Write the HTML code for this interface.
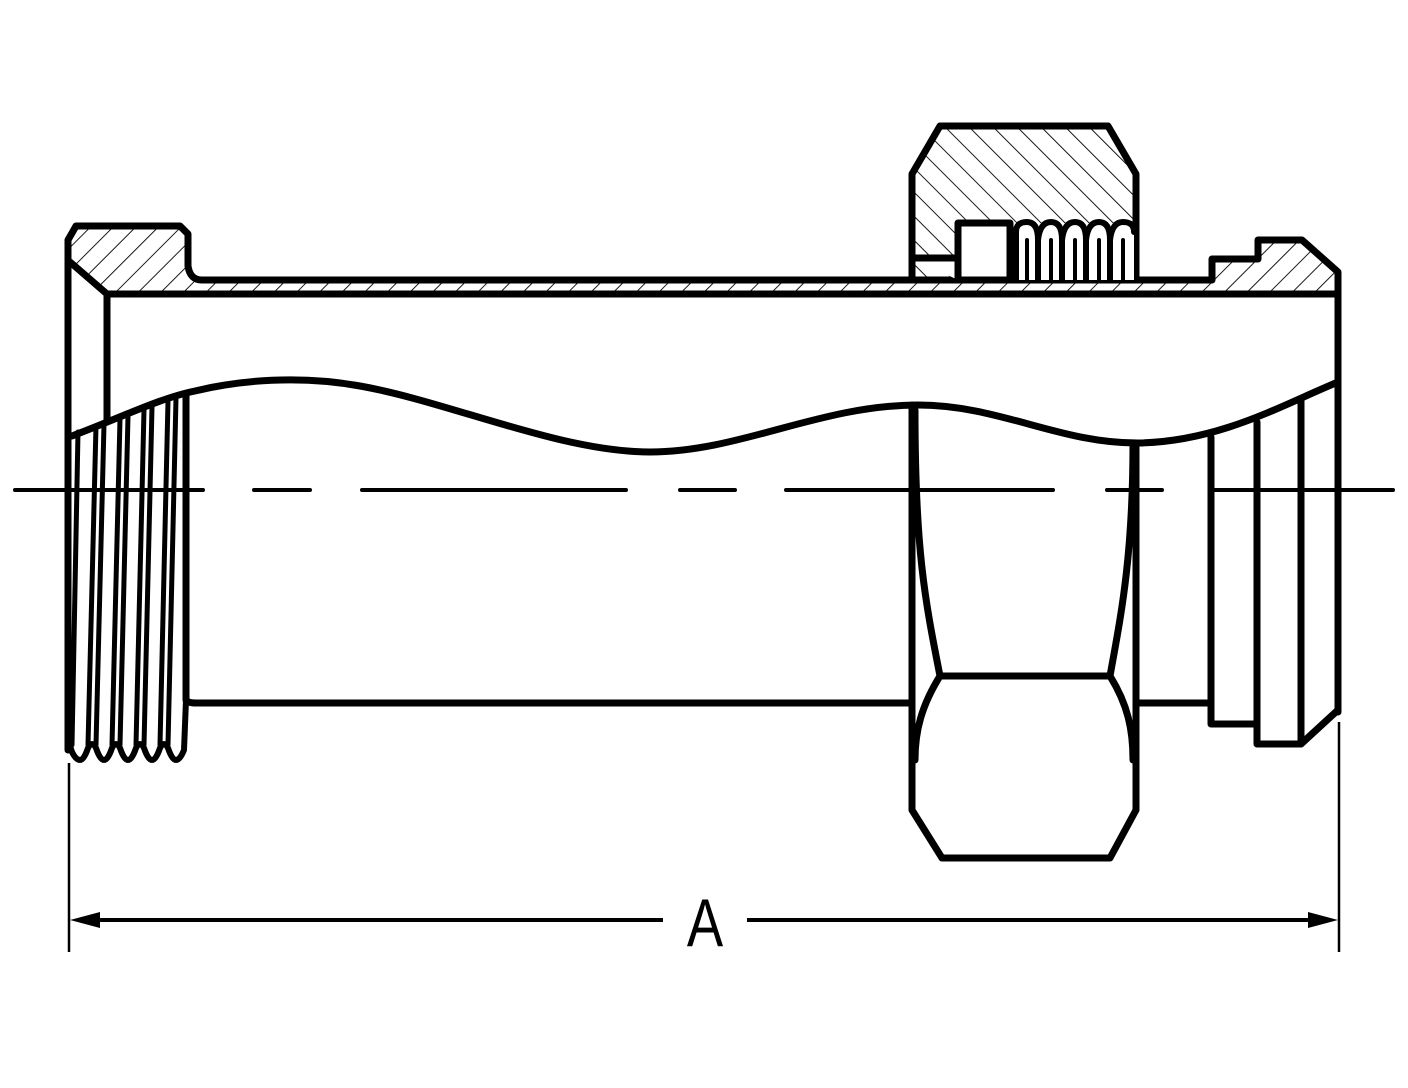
<!DOCTYPE html>
<html><head><meta charset="utf-8"><style>
html,body{margin:0;padding:0;background:#fff;}
svg{display:block}
</style></head><body>
<svg width="1408" height="1088" viewBox="0 0 1408 1088" xmlns="http://www.w3.org/2000/svg">
<defs>
<pattern id="h1" patternUnits="userSpaceOnUse" width="16" height="16" patternTransform="rotate(45)">
<line x1="0" y1="0" x2="0" y2="16" stroke="#000" stroke-width="1.8"/>
</pattern>
<pattern id="h2" patternUnits="userSpaceOnUse" width="17" height="17" patternTransform="rotate(-45)">
<line x1="0" y1="0" x2="0" y2="17" stroke="#000" stroke-width="1.8"/>
</pattern>
</defs>
<g fill="none" stroke="#000" stroke-width="7" stroke-linejoin="round" stroke-linecap="round">
<path d="M68,240 L76,226 L180,226 L188,234 L188,266 Q190,280 202,280 L912,280 L912,280 L1212,280 L1212,259 L1258,259 L1258,240 L1302,240 L1338,272 L1338,294 L107,294 L72,264 Z" fill="url(#h1)" stroke="none"/>
<path d="M68,750 L68,240 L76,226 L180,226 L188,234 L188,266 Q190,280 202,280 L912,280"/>
<path d="M1136,280 L1212,280 L1212,259 L1258,259 L1258,240 L1302,240 L1338,272 L1338,712"/>
<path d="M107,294 L1338,294"/>
<path d="M70,262 L107,294 L107,420"/>
<path d="M912,280 L912,174 L940,126 L1108,126 L1136,174 L1136,280 Z" fill="url(#h2)"/>
<path d="M912,258 L958,258 L958,280 Z" fill="#fff" stroke="none"/>
<path d="M912,258 L958,258"/>
<rect x="958" y="223" width="52" height="57" fill="#fff"/>
<rect x="1014" y="223" width="120" height="57" fill="#fff" stroke="none"/>
<path d="M1016,280 L1016,232 Q1016,222 1027,222 Q1038,222 1038,240 L1038,280 M1038,240 Q1040,222 1051,222 Q1062,222 1062,240 L1062,280 M1062,240 Q1064,222 1075,222 Q1086,222 1086,240 L1086,280 M1086,240 Q1088,222 1099,222 Q1110,222 1110,240 L1110,280 M1110,240 Q1112,222 1123,222 Q1134,222 1134,232" stroke-width="6"/>
<path d="M1027,280 L1027,240 M1051,280 L1051,240 M1075,280 L1075,240 M1099,280 L1099,240 M1123,280 L1123,240" stroke-width="4"/>
<path d="M72,436 C120,418 160,398 195,391 C240,380 300,375 360,386 C450,402 560,452 650,452 C740,452 820,405 918,405 C1000,405 1060,444 1140,443 C1220,441 1280,406 1338,382"/>
<path d="M186,396 L186,700 Q188,703 196,703 L912,703"/>
<path d="M68,740 L72,752 Q76,760 80,760 Q84,760 88,748 Q92,740 96,748 Q100,760 104,760 Q108,760 112,748 Q116,740 120,748 Q124,760 128,760 Q132,760 136,748 Q140,740 144,748 Q148,760 152,760 Q156,760 160,748 Q164,740 168,748 Q172,760 176,760 Q180,760 184,750 L186,700" stroke-width="6"/>
<g stroke-width="5">
<line x1="78" y1="432" x2="72" y2="745"/>
<line x1="96" y1="426" x2="88" y2="745"/>
<line x1="104" y1="424" x2="96" y2="745"/>
<line x1="120" y1="419" x2="112" y2="745"/>
<line x1="128" y1="416" x2="120" y2="745"/>
<line x1="144" y1="410" x2="136" y2="745"/>
<line x1="152" y1="407" x2="144" y2="745"/>
<line x1="168" y1="401" x2="160" y2="745"/>
<line x1="176" y1="398" x2="168" y2="745"/>
</g>
<path d="M912,405 L912,810 L942,858 L1110,858 L1136,810 L1136,443"/>
<path d="M915,410 C915,550 925,600 940,676 L1110,676 C1120,620 1133,560 1133,443"/>
<path d="M940,676 C922,705 915,730 915,760 M1110,676 C1128,705 1133,730 1133,760"/>
<path d="M1138,703 L1211,703 M1211,437 L1211,724 L1257,724 M1257,422 L1257,744 L1301,744 L1338,710 M1301,400 L1301,744"/>
</g>
<g stroke="#000" stroke-width="4" stroke-linecap="round">
<line x1="15" y1="490" x2="203" y2="490"/>
<line x1="254" y1="490" x2="310" y2="490"/>
<line x1="362" y1="490" x2="626" y2="490"/>
<line x1="680" y1="490" x2="735" y2="490"/>
<line x1="786" y1="490" x2="1053" y2="490"/>
<line x1="1107" y1="490" x2="1162" y2="490"/>
<line x1="1211" y1="490" x2="1393" y2="490"/>
</g>
<g stroke="#000" stroke-width="2.5">
<line x1="69" y1="763" x2="69" y2="952"/>
<line x1="1339" y1="722" x2="1339" y2="952"/>
</g>
<line x1="95" y1="920" x2="663" y2="920" stroke="#000" stroke-width="4"/>
<line x1="747" y1="920" x2="1312" y2="920" stroke="#000" stroke-width="4"/>
<path d="M70,920 L100,912 L100,928 Z" fill="#000"/>
<path d="M1338,920 L1308,912 L1308,928 Z" fill="#000"/>
<text x="705" y="946" font-family="Liberation Sans, sans-serif" font-size="68" text-anchor="middle" transform="translate(705,0) scale(0.8,1) translate(-705,0)">A</text>
</svg>
</body></html>
